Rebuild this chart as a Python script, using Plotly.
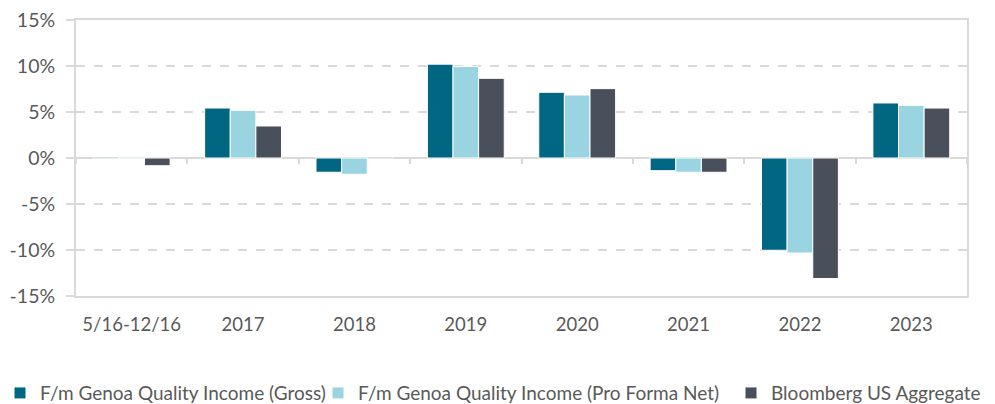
import plotly.graph_objects as go

categories = ["5/16-12/16", "2017", "2018", "2019", "2020", "2021", "2022", "2023"]
gross = [0.1, 5.43, -1.55, 10.2, 7.14, -1.38, -10.03, 5.98]
net = [-0.1, 5.18, -1.77, 9.94, 6.85, -1.55, -10.33, 5.72]
agg = [-0.84, 3.48, 0.1, 8.66, 7.54, -1.55, -13.1, 5.43]
names = ["F/m Genoa Quality Income (Gross)", "F/m Genoa Quality Income (Pro Forma Net)", "Bloomberg US Aggregate"]
colors = ["#006682", "#99D4E0", "#4A505B"]
y_ticks = [-15, -10, -5, 0, 5, 10, 15]
y_labels = ["-15%", "-10%", "-5%", "0%", "5%", "10%", "15%"]

legend_ids = ["legend", "legend2", "legend3"]
legend_x = [0.0, 0.3196, 0.7347]

fig = go.Figure()
for vals, name, col, lg in zip([gross, net, agg], names, colors, legend_ids):
    fig.add_trace(go.Bar(x=categories, y=vals, name=name, legend=lg,
                         marker=dict(color=col, line=dict(color="white", width=1))))

# invisible trace to carry zero-line boundary ticks
fig.add_trace(go.Scatter(x=categories, y=[0]*len(categories), xaxis="x2", mode="lines",
                         line=dict(width=0), showlegend=False, hoverinfo="skip"))

font_fam = "Lato, 'Open Sans', sans-serif"
legend_common = dict(orientation="h", xref="container", yref="container", xanchor="left",
                     y=0.027, yanchor="middle", font=dict(size=19, color="#595959"),
                     itemwidth=30, bgcolor="rgba(0,0,0,0)")
layout_legends = {lg: dict(legend_common, x=lx) for lg, lx in zip(legend_ids, legend_x)}

fig.update_layout(
    width=995, height=404,
    margin=dict(l=76, r=28, t=20, b=108, autoexpand=False),
    paper_bgcolor="white", plot_bgcolor="white",
    barmode="group", bargap=0.31, bargroupgap=0.0,
    font=dict(family=font_fam, size=16, color="#595959"),
    xaxis=dict(type="category", showline=True, linecolor="#D9D9D9", linewidth=2, mirror=True,
               ticks="outside", ticklen=11, tickcolor="rgba(0,0,0,0)", showgrid=False,
               tickfont=dict(size=18.5, color="#595959")),
    xaxis2=dict(type="category", overlaying="x", matches="x", anchor="free", position=0.5,
                showticklabels=False, ticks="outside", ticklen=5, tickcolor="#D9D9D9", tickwidth=2,
                tickson="boundaries", showgrid=False, showline=False, zeroline=False),
    yaxis=dict(range=[-15, 15], tickvals=y_ticks, ticktext=y_labels, showline=True, linecolor="#D9D9D9",
               linewidth=2, mirror=True, ticks="outside", ticklen=8, tickcolor="#D9D9D9", tickwidth=2,
               ticklabelstandoff=7,
               showgrid=True, gridcolor="#D9D9D9", griddash="dash", gridwidth=2,
               zeroline=True, zerolinecolor="#D9D9D9", zerolinewidth=2,
               tickfont=dict(size=19.5, color="#595959")),
    **layout_legends,
)
fig.write_html("out.html", config={"displayModeBar": False},
               post_script="document.body.style.margin='0';document.body.style.overflow='hidden';")
